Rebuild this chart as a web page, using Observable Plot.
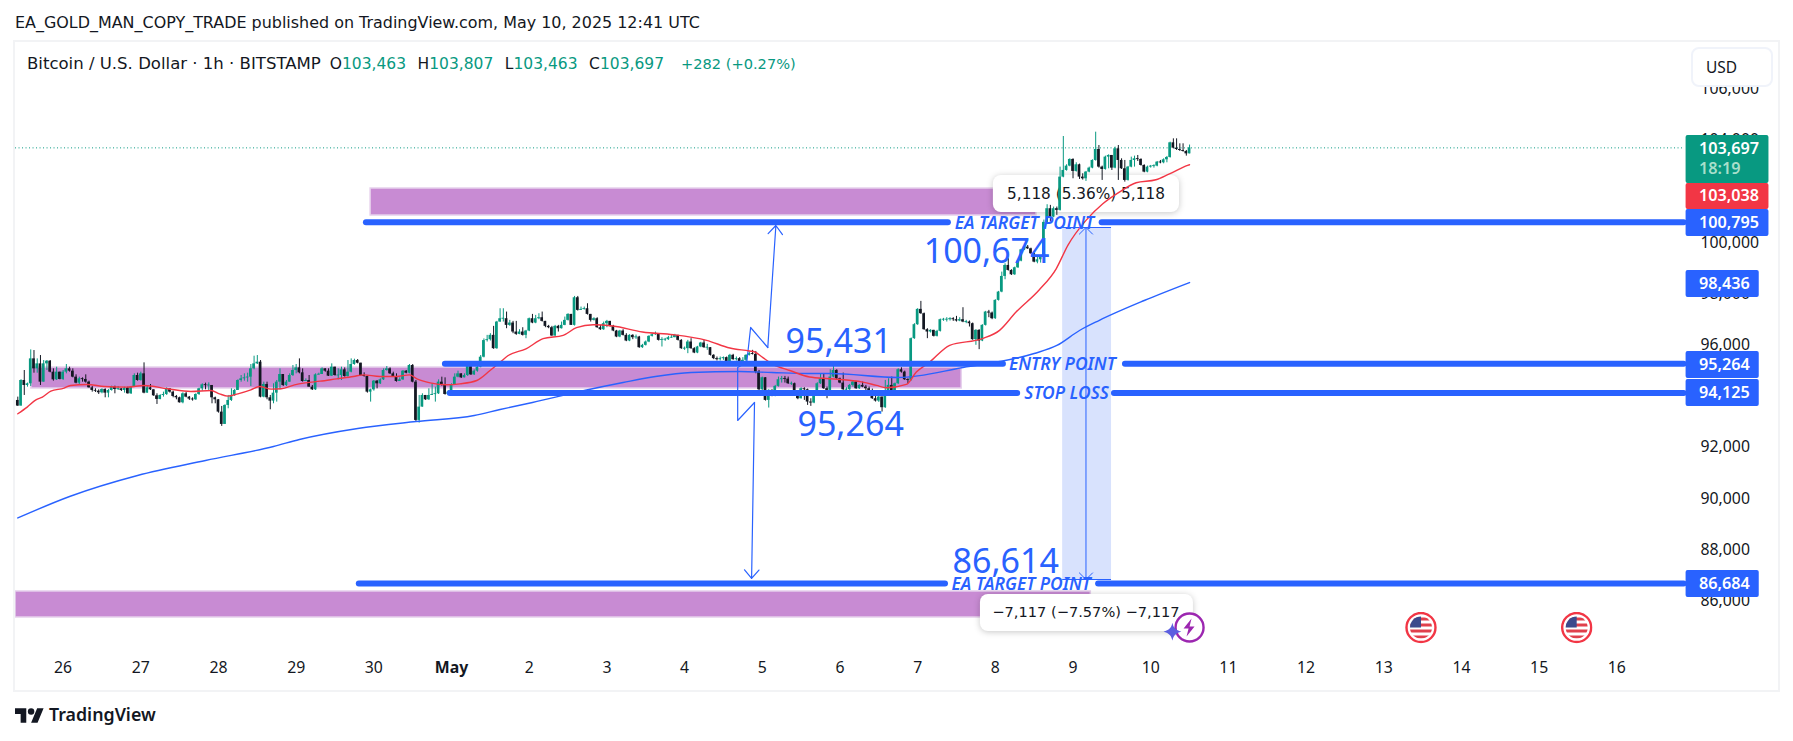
<!DOCTYPE html>
<html><head><meta charset="utf-8">
<script src="https://cdn.jsdelivr.net/npm/d3@7"></script>
<script src="https://cdn.jsdelivr.net/npm/@observablehq/plot@0.6"></script>
<style>
html,body{margin:0;padding:0;background:#fff;width:1793px;height:741px;overflow:hidden;font-family:"DejaVu Sans",sans-serif;color:#131722}
#head{height:41px;line-height:46px;font-size:15.95px;padding-left:15px;white-space:nowrap;box-sizing:border-box}
#panel{position:absolute;left:13px;top:40px;width:1763px;height:648px;border:2px solid #f2f3f5;pointer-events:none}
#legend{position:absolute;left:27px;top:54px;font-size:15.5px;white-space:pre;background:#fff}
#legend b{font-weight:400;color:#089981}
#legend i{font-style:normal;margin-left:11.5px}
#legend i.o{margin-left:9px}
#legend span{font-size:16.55px}
#legend b.p{font-size:14.6px;margin-left:17px}
#usd{position:absolute;left:1691px;top:47px;width:78px;height:36px;border:2px solid #f0f3fa;border-radius:8px;background:#fff;font-family:"Noto Sans",sans-serif;font-size:15.5px;line-height:36px;text-indent:13px}
#foot{position:absolute;left:15px;top:702px;height:24px;display:flex;align-items:center;gap:5px;font-family:"Noto Sans",sans-serif;font-size:17.8px;font-weight:600}
svg{display:block}
</style></head><body>
<div id="head">EA_GOLD_MAN_COPY_TRADE published on TradingView.com, May 10, 2025 12:41 UTC</div>
<div id="chart"></div>
<div id="panel"></div>
<div id="legend"><span>Bitcoin / U.S. Dollar · 1h · BITSTAMP</span><i class="o">O</i><b>103,463</b><i>H</i><b>103,807</b><i>L</i><b>103,463</b><i>C</i><b>103,697</b><b class="p">+282 (+0.27%)</b></div>
<div id="usd">USD</div>
<div id="foot"><svg width="29" height="18" viewBox="0 0 36 22"><path fill="#131722" d="M14 22H7V11H0V4h14v18zM28 22h-8l7.5-18h8L28 22z"/><circle fill="#131722" cx="20" cy="8" r="4"/></svg><span>TradingView</span></div>
<script>
const firstOpen = 93830;
const closes = [
93610,94610,94415,94480,95455,95065,95260,94545,95260,95364,
94935,94636,94935,94650,94935,95065,94974,94740,94506,94675,
94650,94545,94324,94220,94194,94129,94259,94116,94220,94350,
94259,94285,94220,94311,94090,94350,94805,94610,94870,94116,
94324,94246,94012,93869,94025,94064,94285,94155,93986,93934,
93739,94090,93960,93882,93856,94064,94285,94441,94415,94415,
93934,93856,93375,92894,93635,93830,94025,94220,94610,94675,
94714,94740,95065,95260,95325,93960,94454,93934,93804,94116,
94545,94844,94415,94545,94805,95000,95104,94909,94571,94610,
94350,94246,94831,94844,95065,94974,94779,95130,94805,94805,
95026,94766,94935,95234,95390,95286,94805,94766,94155,94246,
94584,94480,94636,95000,95065,94870,94766,94571,94636,94974,
94896,95195,94545,93050,93570,94025,93856,94025,94064,94090,
94545,94415,94064,94155,94441,94740,94870,94714,94805,95156,
94831,94974,95130,95520,96170,96204,96373,95853,96893,97023,
97023,96763,96854,96503,96412,96503,96373,96542,97023,96854,
97023,97062,96919,96724,96672,96347,96724,96633,96763,96958,
97192,96763,97842,97348,97387,97413,97192,96958,97023,96672,
96594,96828,96919,96724,96542,96308,96542,96373,96152,96373,
96282,96308,95892,95983,96113,96334,96399,96438,96178,96204,
96204,96282,96282,96373,96178,95853,95853,96113,95853,95684,
95918,96074,95892,95892,95593,95463,95424,95463,95502,95294,
95593,95424,95463,95333,95398,95593,95658,95632,94938,94249,
94717,93833,94223,94002,94379,94639,94678,94665,94483,94483,
94067,93898,94288,94249,93768,93729,94158,94483,94678,94288,
94223,94743,95003,94678,94509,94249,94249,94418,94548,94288,
94418,94353,94288,94197,93898,93807,93963,93547,94158,94418,
94158,94483,95029,94938,94639,94613,96244,96790,97388,97219,
96595,96504,96569,96335,96530,96985,96985,96985,97024,96985,
96933,96985,96894,96894,96829,96205,96569,96153,96764,97284,
97245,97024,97739,98064,98675,99104,98909,98740,99013,99273,
99715,99819,99754,99559,99234,99325,99429,100787,101320,100995,
101320,101255,102555,102815,102984,103244,102776,103036,102555,102490,
102750,102906,103205,103634,102945,102854,103335,103400,102906,103660,
103205,102880,102425,102945,103205,103270,103244,103010,102750,102945,
102984,102984,103140,103114,103231,103322,103894,103686,103634,103595,
103556,103463,103697];
const highs = [
93960,94640,95000,94510,95805,95780,95455,95585,95390,95390,
95390,95065,95130,94935,95000,95234,95130,95065,94831,94740,
94714,94831,94584,94376,94285,94246,94285,94285,94259,94389,
94389,94376,94285,94350,94350,94376,94870,94896,94935,95299,
94376,94454,94220,94090,94051,94155,94324,94246,94194,94025,
93960,94129,94155,93986,93934,94090,94311,94480,94506,94519,
94324,93960,93804,93596,93661,94025,94285,94259,94636,94805,
94870,94896,95234,95559,95585,95390,94545,94545,94025,94480,
94610,95065,94805,94610,94870,95195,95234,95455,95065,94675,
94805,94415,94870,94896,95104,95065,95065,95260,95130,95065,
95130,95104,95390,95455,95442,95429,95286,94909,94779,94272,
94610,94610,94675,95065,95156,95104,94935,94870,94714,95000,
95000,95234,95234,94610,94025,94090,94025,94285,94480,94350,
94636,94740,94714,94220,94480,94870,94974,94870,94870,95182,
95156,95026,95195,95585,96235,96373,96438,96724,96919,97413,
97413,97283,96958,96919,96919,96594,96672,96568,97049,97192,
97153,97218,97283,96919,96763,96724,96763,96763,96893,97088,
97218,97192,97894,97894,97478,97478,97608,97192,97062,97062,
96763,96893,96958,96919,96763,96568,96568,96594,96438,96399,
96399,96386,96334,96022,96152,96360,96438,96503,96438,96282,
96256,96334,96399,96412,96334,96204,95918,96178,96243,95892,
95944,96100,96178,96022,95892,95619,95528,95528,95528,95528,
95632,95632,95528,95502,95502,95619,95723,95788,95744,95003,
94743,94704,94249,94249,94418,94743,94769,94769,94743,94548,
94509,94119,94327,94327,94275,93898,94184,94522,94873,94873,
94353,95029,95159,95029,94704,94899,94327,94457,94574,94574,
94444,94548,94418,94353,94275,93989,93989,93963,94613,94678,
94743,94509,95068,95107,94977,94678,96270,96829,97414,97700,
97245,96634,96595,96530,96569,97011,97037,97063,97063,97063,
97115,97063,97453,96959,96933,96855,96595,96595,96790,97310,
97349,97284,97765,98090,98844,99169,99364,98935,99039,99299,
99741,99884,99884,99780,99559,99455,99481,100878,101476,101450,
101385,101385,102945,104141,103036,103270,103270,103114,103062,102685,
102776,102945,103231,104310,103790,102984,103374,103426,103400,103725,
103790,103270,103205,102971,103335,103374,103400,103270,103036,102984,
103010,103036,103166,103205,103270,103361,103920,104050,104050,103855,
103855,103595,103807];
const lows = [
93600,93635,94025,94350,94375,94895,94895,94415,94585,95000,
94910,94585,94610,94636,94610,94870,94935,94714,94480,94454,
94545,94506,94311,94155,94142,94064,94090,93934,93934,94194,
94090,94220,94181,94116,94077,94064,94350,94584,94584,94090,
94116,94220,93986,93674,93856,93960,94025,94116,93934,93856,
93726,93700,93934,93830,93804,93830,94025,94194,94246,94220,
93700,93700,93336,92816,92894,93505,93791,93986,94220,94545,
94584,94545,94376,95026,95234,93934,93934,93856,93466,93700,
93765,94246,94376,94376,94545,94766,94870,94870,94545,94584,
94350,94220,94220,94818,94844,94935,94766,94766,94779,94636,
94610,94740,94740,94909,95208,95260,94779,94740,94116,93765,
94194,94285,94454,94610,94974,94844,94740,94545,94584,94610,
94870,94870,94519,93011,92946,93570,93830,93830,94025,93765,
94064,94389,94038,94025,94116,94415,94714,94688,94714,94766,
94805,94805,94935,95104,95494,96113,96152,95827,95827,96880,
96893,96633,96724,96438,96373,96399,96347,96243,96516,96828,
96828,96984,96893,96672,96633,96334,96334,96503,96620,96750,
96932,96763,96737,97322,97361,97361,97166,96893,96932,96646,
96568,96568,96672,96698,96516,96282,96282,96347,96126,96126,
96204,96217,95866,95866,95957,96087,96308,96373,96152,95918,
96139,96178,96256,96282,96152,95827,95788,95658,95827,95658,
95658,95892,95866,95788,95567,95424,95372,95372,95398,95242,
95268,95398,95372,95307,95333,95346,95567,95606,94873,94158,
94223,93807,93534,93976,93976,94353,94509,94509,94457,94418,
94041,93859,93885,93833,93638,93599,93703,94132,94457,94262,
93898,94197,94717,94652,94483,94223,94054,94223,94353,94262,
94262,94327,94028,94171,93872,93768,93755,93378,93521,94132,
94132,94132,94457,94899,94613,94483,94587,96218,96764,97193,
96569,96244,96465,96309,96309,96504,96920,96894,96933,96920,
96894,96907,96868,96829,96699,96179,95984,95815,96127,96738,
97063,96985,96998,97713,98038,98545,98883,98714,98714,98987,
99247,99689,99728,99533,99208,99169,99195,99300,100761,100800,
100969,101060,101229,102529,102789,102958,102490,102750,102464,102438,
102386,102724,102880,103179,102906,102425,102828,102880,102815,102880,
102425,102854,102360,102399,102919,102945,103166,102984,102724,102724,
102906,102906,102958,103075,103075,103114,103296,103660,103595,103556,
103530,103374,103463];

const redHours = [0,2.9,5.6,7.6,10.2,14.3,16.3,21.5,26.7,33.9,39,46.3,53.5,59.7,62.3,64.9,68,72,74.7,78.3,81.4,85.5,89,93.4,98.5,103.7,106.8,111.9,117,121,123.3,127.4,132.5,136.6,141.8,145.9,149,151.5,157,162.3,168.5,172.6,177.8,183.9,193,202.5,212.8,220,226,227.7,230.2,233.3,238.5,244.6,250.8,261,265.3,268.3,274.5,277.6,281.7,287.9,298,303.3,308.4,315.6,320.8,324.4,330,335.2,340.3,345.5,351.6,355.8,361.4,362];
const redValues = [93310,93570,93856,93960,94194,94311,94415,94454,94376,94350,94415,94285,94181,94220,94090,94000,94090,94246,94376,94272,94285,94441,94519,94584,94675,94766,94831,94766,94766,94831,94675,94519,94441,94480,94610,95000,95325,95585,95845,96243,96373,96672,96789,96737,96503,96399,96178,95879,95762,95723,95502,95242,95000,94748,94678,94548,94418,94327,94457,94938,95328,95984,96244,96569,97284,98155,98974,99890,100865,101515,101970,102334,102451,102685,103010,103038];
const blueHours = [0,16,37,58,79,87,105,123,141,149,159,175,187,197,208,223,233,244,251,272,292,314,321,328,334,348,362];
const blueValues = [89240,90079,90899,91485,92032,92305,92735,93008,93243,93477,93750,94219,94531,94766,94922,94961,94922,94883,94883,94727,95117,95664,95977,96563,96953,97734,98436];

const zoneStart = [109,4.2,-0.7], zoneEnd = [314.7,291.6,331.5], zoneTop = [102109,95117,86368], zoneBottom = [101055,94297,85352];
const levelPrices = [100795,95264,94125,86684];
const levelStart = [107.7,132.1,133.6,105.5], levelGapA = [287.5,304.5,308.9,286.6], levelGapB = [335,342.2,338.8,333.9], levelTextAt = [311,322.7,324,310];
const levelLabels = ["EA TARGET POINT","ENTRY POINT","STOP LOSS","EA TARGET POINT"];
const bigLabels = ["100,674","95,431","95,264","86,614"];
const bigHours = [299.3,253.6,257.3,305.2], bigPrices = [99610,96110,92860,87520];
const zigHours = [231.7,226.4,225.2,222.4,222.4,227.6], zigPrices = [95899,96680,95313,95117,93047,93750];
const tipLabels = ["5,118 (5.36%) 5,118","−7,117 (−7.57%) −7,117"];
const tipStart = [301.4,297.4], tipEnd = [358.9,363.2], tipTop = [102617,86250], tipBottom = [101172,84805], tipTextPrice = [101880,85547];
const tipFont = [15.3,14.6];
const dayLabels = ["26","27","28","29","30","May","2","3","4","5","6","7","8","9","10","11","12","13","14","15","16"];
const priceTicks = d3.range(86000,106001,2000);
const tagLabels = ["103,697","103,038","100,795","98,436","95,264","94,125","86,684"];
const tagColors = ["#089981","#f23645","#2962ff","#2962ff","#2962ff","#2962ff","#2962ff"];
const tagTop = [104179,102305,101289,98906,95742,94649,87188], tagBottom = [102305,101289,100234,97852,94688,93594,86134];
const tagText = [103672,101836,100762,98379,95215,94120,86660];
const tagEnd = [541,541,541,538,538,538,538];

const t0 = Date.UTC(2025,3,25,10);
const T = h => new Date(t0 + h*3600e3);
const candles = closes.map((c,i)=>{
  const o = i ? closes[i-1] : firstOpen;
  const gap = Math.abs(o-c) < 35 ? (35-Math.abs(o-c))/2 : 0;
  return {t:T(i),o:Math.max(o,c)+gap,c:Math.min(o,c)-gap,h:Math.max(highs[i],o,c),l:Math.min(lows[i],o,c),up:c>=o};
});
const UP="#089981", DOWN="#131722", BLUE="#2962ff", DEJA='"DejaVu Sans",sans-serif';
const flag = "data:image/svg+xml,"+encodeURIComponent(`<svg xmlns="http://www.w3.org/2000/svg" width="32" height="32"><defs><clipPath id="c"><circle cx="16" cy="16" r="11"/></clipPath></defs><circle cx="16" cy="16" r="14.5" fill="#fff" stroke="#f23645" stroke-width="2.4"/><g clip-path="url(#c)"><rect x="4" y="4" width="24" height="24" fill="#fff"/><g fill="#e0404c"><rect x="4" y="6" width="24" height="3"/><rect x="4" y="12" width="24" height="3"/><rect x="4" y="18" width="24" height="3"/><rect x="4" y="24" width="24" height="3"/></g><rect x="4" y="4" width="12" height="12" fill="#3c4a8c"/></g></svg>`);
const bolt = "data:image/svg+xml,"+encodeURIComponent(`<svg xmlns="http://www.w3.org/2000/svg" width="32" height="32"><circle cx="16" cy="16" r="14" fill="#fff" stroke="#9c27b0" stroke-width="2.4"/><path d="M18 7l-8 10h5l-2 8 8-10h-5z" fill="#9c27b0"/></svg>`);
const spark = "data:image/svg+xml,"+encodeURIComponent(`<svg xmlns="http://www.w3.org/2000/svg" width="18" height="18"><path d="M9 0c1 5 3 7.500 9 9c-6 1.500-8 4-9 9c-1-5-3-7.500-9-9c6-1.500 8-4 9-9z" fill="#5c5fe0"/></svg>`);

const idx = a => a.map((_,i)=>i);
const levelSegs = levelPrices.flatMap((p,i)=>[{a:levelStart[i],b:levelGapA[i],p},{a:levelGapB[i],b:514.8,p}]);

const plot = Plot.plot({
  width:1793,height:650,marginLeft:15,marginRight:110,marginTop:0,marginBottom:45,
  style:{fontFamily:'"Noto Sans",sans-serif',fontSize:"15.8px",color:"#131722",background:"transparent",overflow:"visible"},
  x:{type:"utc",domain:[T(-0.71),T(514.6)]},
  y:{domain:[84219,107852]},
  marks:[
    Plot.axisY({anchor:"right",ticks:priceTicks,tickFormat:d3.format(","),tickSize:0,tickPadding:17,label:null}),
    Plot.axisX({anchor:"bottom",ticks:dayLabels.map((_,i)=>T(14+24*i)).filter((_,i)=>i!==5),tickFormat:d=>dayLabels[Math.round((d-T(14))/864e5)],tickSize:0,tickPadding:15,label:null}),
    Plot.text(["May"],{x:T(14+120),frameAnchor:"bottom",dy:26,text:d=>d,fontWeight:700}),
    Plot.rect(idx(zoneStart),{x1:i=>T(zoneStart[i]),x2:i=>T(zoneEnd[i]),y1:i=>zoneBottom[i],y2:i=>zoneTop[i],fill:"#c88bd3",stroke:"#e6d0ec",strokeWidth:1.5}),
    Plot.rect([0],{x1:T(322.8),x2:T(337.9),y1:86836,y2:100586,fill:"#d8e2fd"}),
    Plot.rect(idx(tipLabels),{x1:i=>T(tipStart[i]),x2:i=>T(tipEnd[i]),y1:i=>tipBottom[i],y2:i=>tipTop[i],fill:"#fff",rx:8,imageFilter:"drop-shadow(0 1px 3px rgba(0,0,0,.22))"}),
    Plot.text(idx(tipLabels),{x:()=>T(330),y:i=>tipTextPrice[i],text:i=>tipLabels[i],fontSize:i=>tipFont[i],fontFamily:DEJA,fill:"#131722"}),
    Plot.ruleY([103697],{x1:T(-0.7),x2:T(514.8),stroke:UP,strokeWidth:1,strokeDasharray:"1,2.5"}),
    Plot.ruleX(candles,{x:"t",y1:"l",y2:"h",stroke:d=>d.up?UP:DOWN,strokeWidth:1}),
    Plot.rect(candles,{x1:d=>new Date(+d.t-1500e3),x2:d=>new Date(+d.t+1500e3),y1:"c",y2:"o",fill:d=>d.up?UP:DOWN}),
    Plot.text(idx(bigLabels),{x:i=>T(bigHours[i]),y:i=>bigPrices[i],text:i=>bigLabels[i],fontSize:34,fill:BLUE}),
    Plot.ruleY([100586,86836],{x1:T(322.8),x2:T(337.9),stroke:BLUE,strokeWidth:1}),
    Plot.arrow([0],{x1:T(330),y1:94000,x2:T(330),y2:100586,stroke:BLUE,strokeWidth:1,headLength:14,headAngle:90,inset:0}),
    Plot.arrow([0],{x1:T(330),y1:94000,x2:T(330),y2:86836,stroke:BLUE,strokeWidth:1,headLength:14,headAngle:90,inset:0}),
    Plot.line(idx(zigHours),{x:i=>T(zigHours[i]),y:i=>zigPrices[i],stroke:BLUE,strokeWidth:1.2}),
    Plot.arrow([0],{x1:T(231.7),y1:95899,x2:T(234.2),y2:100664,stroke:BLUE,strokeWidth:1.2,headLength:14,headAngle:80,inset:0}),
    Plot.arrow([0],{x1:T(227.6),y1:93750,x2:T(226.7),y2:86876,stroke:BLUE,strokeWidth:1.2,headLength:14,headAngle:80,inset:0}),
    Plot.line(idx(blueHours),{x:i=>T(blueHours[i]),y:i=>blueValues[i],stroke:BLUE,strokeWidth:1.4,curve:"monotone-x"}),
    Plot.line(idx(redHours),{x:i=>T(redHours[i]),y:i=>redValues[i],stroke:"#f23645",strokeWidth:1.4,curve:"monotone-x"}),
    Plot.ruleY(levelSegs,{x1:d=>T(d.a),x2:d=>T(d.b),y:"p",stroke:BLUE,strokeWidth:6,strokeLinecap:"round"}),
    Plot.text(idx(levelLabels),{x:i=>T(levelTextAt[i]),y:i=>levelPrices[i],dy:1,text:i=>levelLabels[i],fontSize:17.4,fontStyle:"italic",fontWeight:600,fill:BLUE}),
    Plot.image([0],{x:T(362),y:84961,src:bolt,width:32,height:32}),
    Plot.image([0],{x:T(356.7),y:84800,src:spark,width:18,height:18}),
    Plot.image([433.5,481.6],{x:d=>T(d),y:()=>84961,src:flag,width:32,height:32}),
    Plot.rect(idx(tagLabels),{x1:()=>T(515.4),x2:i=>T(tagEnd[i]),y1:i=>tagBottom[i],y2:i=>tagTop[i],fill:i=>tagColors[i],rx:2}),
    Plot.text(idx(tagLabels),{x:()=>T(519.4),y:i=>tagText[i],text:i=>tagLabels[i],fill:"#fff",textAnchor:"start",fontWeight:600,fontSize:16.2}),
    Plot.text(["18:19"],{x:T(519.4),y:102891,text:d=>d,fill:"#a8dfcb",textAnchor:"start",fontWeight:600,fontSize:16.2})
  ]
});
document.getElementById("chart").appendChild(plot);
</script>
</body></html>
